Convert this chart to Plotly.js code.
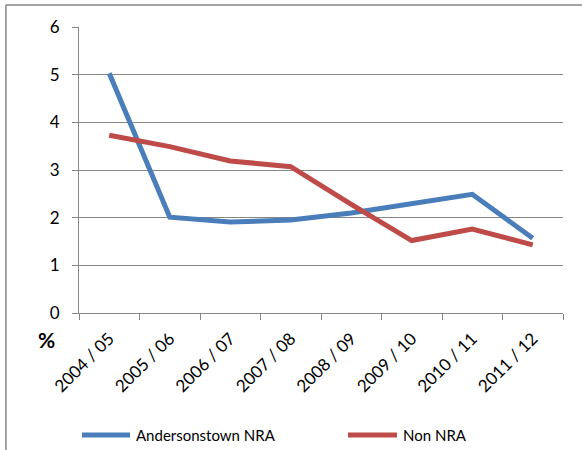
<!DOCTYPE html>
<html><head><meta charset="utf-8">
<script src="https://cdn.plot.ly/plotly-3.0.1.min.js"></script>
<style>html,body{margin:0;padding:0;background:#fff;}#chart{width:582px;height:450px;}</style>
</head><body><div id="chart"></div>
<script>
var categories = ["2004 / 05","2005 / 06","2006 / 07","2007 / 08","2008 / 09","2009 / 10","2010 / 11","2011 / 12"];
var andersonstown = [5.03, 2.01, 1.91, 1.95, 2.1, 2.29, 2.49, 1.57];
var nonNRA = [3.73, 3.49, 3.19, 3.07, 2.28, 1.52, 1.76, 1.43];
var yTicks = [0,1,2,3,4,5,6];
var seriesNames = ["Andersonstown NRA", "Non NRA"];
var seriesColors = ["#4A7EBB", "#BE4B48"];

var font = "Lato, 'Open Sans', 'Liberation Sans', sans-serif";
var traces = [
  {x: categories, y: andersonstown, type: "scatter", mode: "lines", name: seriesNames[0],
   line: {color: seriesColors[0], width: 5}},
  {x: categories, y: nonNRA, type: "scatter", mode: "lines", name: seriesNames[1],
   line: {color: seriesColors[1], width: 5}}
];
var legY = -0.4266;
var layout = {
  width: 582, height: 450,
  margin: {l: 79, r: 19, t: 27, b: 137},
  paper_bgcolor: "#fff", plot_bgcolor: "#fff",
  font: {family: font, size: 15, color: "#000"},
  showlegend: false,
  xaxis: {type: "category", tickangle: -45, showgrid: false, showline: true, automargin: false,
          linecolor: "#868686", linewidth: 1, ticks: "outside", ticklen: 6, tickcolor: "#868686",
          tickson: "boundaries", ticklabelstandoff: 8, tickfont: {family: font, size: 17}, range: [-0.5, 7.5]},
  yaxis: {range: [0, 6], tickvals: yTicks, showgrid: true, gridcolor: "#868686", gridwidth: 1,
          showline: true, linecolor: "#868686", linewidth: 1, ticks: "outside", ticklen: 6, automargin: false,
          tickcolor: "#868686", zeroline: false, ticklabelstandoff: 9, tickfont: {family: font, size: 17}},
  annotations: [
    {text: "<b>%</b>", xref: "paper", yref: "paper", x: -0.068, y: -0.094, xanchor: "center", yanchor: "middle",
     showarrow: false, font: {family: font, size: 21, color: "#000"}},
    {text: seriesNames[0], xref: "paper", yref: "paper", x: 0.1136, y: legY, xanchor: "left", yanchor: "middle",
     showarrow: false, font: {family: font, size: 15, color: "#000"}},
    {text: seriesNames[1], xref: "paper", yref: "paper", x: 0.6653, y: legY, xanchor: "left", yanchor: "middle",
     showarrow: false, font: {family: font, size: 15, color: "#000"}}
  ],
  shapes: [
    {type: "line", xref: "paper", yref: "paper", x0: -0.151, x1: 1.1, y0: 1.077, y1: 1.077,
     line: {color: "#868686", width: 1.5}},
    {type: "line", xref: "paper", yref: "paper", x0: -0.151, x1: -0.151, y0: 1.077, y1: -0.5,
     line: {color: "#868686", width: 1.5}},
    {type: "line", xref: "paper", yref: "paper", x0: 0.0062, x1: 0.1054, y0: legY, y1: legY,
     line: {color: seriesColors[0], width: 5}},
    {type: "line", xref: "paper", yref: "paper", x0: 0.5558, x1: 0.657, y0: legY, y1: legY,
     line: {color: seriesColors[1], width: 5}}
  ]
};
Plotly.newPlot("chart", traces, layout, {displayModeBar: false, staticPlot: true});
</script></body></html>
